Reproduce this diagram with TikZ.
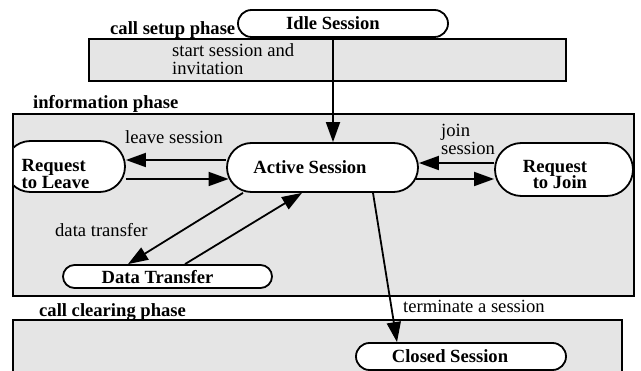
\documentclass[tikz,border=0pt]{standalone}
\usepackage{fontspec}
\setmainfont{Liberation Serif}
\usetikzlibrary{arrows.meta,shapes.misc}

\newcommand{\figfont}{\fontsize{18.6}{18.5}\selectfont}

\tikzset{
  phase/.style={fill=black!10, draw, line width=1.8pt},
  state/.style={rounded rectangle, draw, fill=white, line width=1.8pt, inner sep=0pt,
    text depth=0pt, font=\fontsize{18.6}{14.5}\selectfont\bfseries},
  trans/.style={line width=1.8pt, -{Triangle[length=20pt,width=14pt]}},
  lbl/.style={anchor=base west, inner sep=0pt, font=\figfont},
  phaselbl/.style={lbl, font=\figfont\bfseries}
}

\begin{document}
\begin{tikzpicture}[x=1pt, y=-1pt]
  \useasboundingbox (0,0) rectangle (641,371);
  % Fases
  \draw[phase] (89,39) rectangle (566,81);
  \draw[phase] (13,114) rectangle (634,296);
  \fill[black!10] (13,320) rectangle (622,371);
  \draw[line width=1.8pt] (13,371) -- (13,320) -- (622,320) -- (622,371);
  \node[phaselbl] (setuplbl) at (110,35) {call setup phase};
  \node[phaselbl] (infolbl) at (33,109) {information phase};
  \node[phaselbl] (clearlbl) at (39,317) {call clearing phase};
  % Estados
  \node[state, minimum width=210pt, minimum height=27pt] (idle) at (343,23.5) {Idle Session\hspace*{20pt}};
  \node[state, minimum width=191pt, minimum height=49pt] (active) at (322.5,167.5) {Active Session\hspace*{25pt}};
  \begin{scope}
    \clip (13.9,114) rectangle (634,296);
    \node[state, align=left, text height=45pt, minimum width=120pt, minimum height=51pt] (leave) at (65,166.5) {Request\\to Leave\hspace*{19pt}};
  \end{scope}
  \node[state, align=right, text height=39pt, minimum width=138pt, minimum height=53pt] (join) at (564,169.5) {Request\hspace*{18pt}\\[-1pt]to Join\hspace*{18pt}};
  \node[state, minimum width=209pt, minimum height=23pt] (dt) at (167.5,276.5) {Data Transfer\hspace*{20pt}};
  \node[state, minimum width=210pt, minimum height=27pt] (closed) at (461,356.5) {Closed Session\hspace*{22pt}};
  % Transiciones
  \draw[trans] ([xshift=-10pt]idle.south) -- ([xshift=-10pt]idle.south |- active.north);
  \draw[trans] ([yshift=7.5pt]active.west) -- ([yshift=7.5pt]active.west -| leave.east);
  \draw[trans] ([yshift=-11.5pt]active.west -| leave.east) -- ([yshift=-11.5pt,xshift=2.5pt]active.west);
  \draw[trans] ([yshift=4.5pt]active.east -| join.west) -- ([yshift=4.5pt]active.east);
  \draw[trans] ([yshift=-11.5pt,xshift=-2.5pt]active.east) -- ([yshift=-11.5pt]active.east -| join.west);
  \draw[trans] ([xshift=-79.5pt]active.south) -- ([xshift=-39.5pt]dt.north);
  \draw[trans] ([xshift=17.5pt]dt.north) -- ([xshift=-20.5pt]active.south);
  \draw[trans] ([xshift=50.5pt]active.south) -- ([xshift=-64pt]closed.north);
  % Etiquetas
  \node[lbl, align=left] (startlbl) at (172,75) {start session and\\invitation};
  \node[lbl] (leavelbl) at (125,144) {leave session};
  \node[lbl, align=left] (joinlbl) at (441,155) {join\\session};
  \node[lbl] (dtlbl) at (55,237) {data transfer};
  \node[lbl] (termlbl) at (403,313) {terminate a session};
\end{tikzpicture}
\end{document}
